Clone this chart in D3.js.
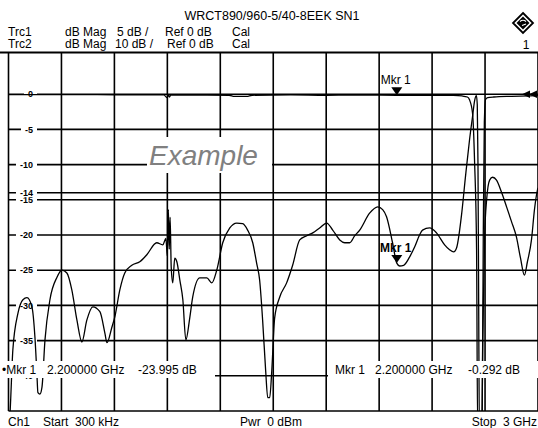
<!DOCTYPE html>
<html><head><meta charset="utf-8">
<script src="https://cdn.jsdelivr.net/npm/d3@7"></script>
<style>
html,body{margin:0;padding:0;background:#fff;overflow:hidden}
text{font-family:"Liberation Sans",Arial,sans-serif;fill:#000}
</style>
</head><body>
<svg id="c" width="538" height="428"></svg>
<script>
// ---------- data ----------
const titleText = "WRCT890/960-5/40-8EEK SN1";
const traceNames = ["Trc1", "Trc2"];
const traceFormats = ["dB Mag", "dB Mag"];
const traceScales = ["5 dB /", "10 dB /"];
const traceRefs = ["Ref 0 dB", "Ref 0 dB"];
const traceCal = ["Cal", "Cal"];
const startGHz = 0.0003, stopGHz = 3.0;
const footerTexts = ["Ch1", "Start  300 kHz", "Pwr  0 dBm", "Stop  3 GHz"];
const yTickValues = [0, -5, -10, -15, -14, -20, -25, -30, -35, -40];
const markerFreq = 2.2;
const markerTrc1 = -23.995;
const markerTrc2 = -0.292;
const markerInfoLeft = ["\u2022Mkr 1", "2.200000 GHz", "-23.995 dB"];
const markerInfoRight = ["Mkr 1", "2.200000 GHz", "-0.292 dB"];
const watermark = "Example";

// Trc1 (5 dB/div) : [GHz, dB]
const trc1 = [
[0.0003,-48],[0.0085,-45.5],[0.025,-36.3],[0.054,-31.1],[0.082,-29.2],[0.105,-28.9],[0.133,-30.2],
[0.150,-34.5],[0.161,-39.6],[0.167,-42.4],[0.178,-42.6],[0.190,-41.6],[0.207,-34.9],[0.235,-29.2],
[0.275,-26.0],[0.303,-25.0],[0.331,-25.4],[0.359,-27.8],[0.388,-32.1],[0.416,-35.2],[0.444,-32.1],
[0.478,-30.2],[0.518,-30.9],[0.546,-33.9],[0.558,-35.3],[0.586,-33.1],[0.603,-31.6],[0.631,-27.8],
[0.659,-25.4],[0.699,-24.3],[0.744,-23.8],[0.784,-22.8],[0.840,-21.1],[0.874,-21.4],[0.892,-20.5],
[0.900,-23.0],[0.906,-16.4],[0.911,-22.0],[0.916,-17.5],[0.922,-24.5],[0.931,-26.8],[0.942,-23.3],
[0.954,-23.8],[0.971,-26.4],[0.988,-29.2],[1.005,-34.9],[1.027,-31.8],[1.044,-28.8],[1.084,-26.1],
[1.124,-26.1],[1.152,-26.8],[1.180,-25.0],[1.214,-21.1],[1.254,-19.0],[1.293,-18.3],[1.327,-18.4],
[1.355,-19.3],[1.384,-21.1],[1.406,-24.0],[1.423,-26.4],[1.440,-32.1],[1.457,-39.2],[1.469,-43.1],
[1.480,-43.1],[1.492,-39.2],[1.508,-31.8],[1.537,-28.8],[1.576,-26.8],[1.610,-24.3],[1.650,-20.7],
[1.690,-20.1],[1.724,-19.7],[1.763,-19.0],[1.803,-18.3],[1.837,-19.3],[1.877,-20.7],[1.905,-21.1],
[1.933,-21.1],[1.962,-20.1],[1.990,-19.3],[2.046,-16.9],[2.092,-16.0],[2.120,-16.4],[2.142,-17.4],
[2.176,-21.1],[2.200,-24.0],[2.216,-24.4],[2.239,-24.3],[2.273,-23.1],[2.301,-21.7],[2.329,-20.0],
[2.346,-19.3],[2.386,-19.0],[2.425,-19.7],[2.471,-21.4],[2.499,-22.1],[2.522,-22.4],[2.539,-21.8],
[2.567,-17.1],[2.590,-11.5],[2.612,-6.5],[2.629,-3.2],[2.641,-0.9],[2.651,-0.2],[2.656,-1.5],
[2.660,-10],[2.664,-30],[2.668,-48],[2.682,-48],[2.687,-35],[2.692,-28],[2.698,-20],[2.709,-15.0],
[2.726,-12.2],[2.743,-11.8],[2.765,-12.2],[2.793,-13.9],[2.822,-16.0],[2.850,-18.1],[2.878,-20.3],
[2.901,-23.3],[2.923,-25.7],[2.940,-23.8],[2.963,-20.7],[2.980,-16.4],[2.997,-13.6],[3.0,-13.3]
];
// Trc2 (10 dB/div) : [GHz, dB]
const trc2 = [
[0.0003,-0.1],[0.3,-0.1],[0.6,-0.15],[0.88,-0.2],[0.900,-1.0],[0.906,-0.1],[0.912,-0.8],[0.920,-0.2],
[1.0,-0.25],[1.25,-0.3],[1.28,-0.6],[1.35,-0.6],[1.38,-0.3],[1.6,-0.2],[1.8,-0.3],[2.0,-0.25],
[2.2,-0.292],[2.4,-0.3],[2.52,-0.35],[2.57,-0.5],[2.600,-0.8],[2.612,-1.6],[2.629,-5.3],[2.641,-19.6],
[2.652,-44],[2.658,-95],[2.683,-95],[2.690,-40],[2.696,-8],[2.703,-1.5],[2.715,-1.0],[2.75,-0.8],
[2.85,-0.6],[3.0,-0.4]
];

// ---------- drawing ----------
const svg = d3.select("#c");
const X0 = 8.5, X1 = 538, YTOP = 52.5, YBOT = 411;
const x = d3.scaleLinear().domain([startGHz, stopGHz]).range([X0, X1]);
const y1 = d3.scaleLinear().domain([0, -45]).range([94.2, YBOT]);
const y2 = d3.scaleLinear().domain([0, -90]).range([94.2, YBOT]);
const GW = 1.6;

const grid = svg.append("g").attr("stroke", "#000").attr("stroke-width", GW);
d3.range(0, 11).forEach(i => {
  const f = startGHz + i * (stopGHz - startGHz) / 10;
  grid.append("line").attr("x1", x(f)).attr("x2", x(f)).attr("y1", YTOP).attr("y2", YBOT);
});
yTickValues.forEach(v => {
  grid.append("line").attr("x1", X0).attr("x2", X1).attr("y1", y1(v)).attr("y2", y1(v));
});
grid.append("line").attr("x1", X0).attr("x2", X1).attr("y1", y1(-45)).attr("y2", y1(-45));
svg.append("line").attr("x1", 0).attr("x2", 538).attr("y1", YTOP).attr("y2", YTOP)
  .attr("stroke", "#000").attr("stroke-width", 2);

// y labels
const gl = svg.append("g");
yTickValues.forEach(v => {
  const g = gl.append("g");
  const t = g.append("text").attr("x", 33).attr("y", y1(v)).attr("dy", "0.36em")
    .attr("text-anchor", "end").attr("font-weight", "bold").attr("font-size", 9).text(String(v));
  const bb = t.node().getBBox();
  g.insert("rect", "text").attr("x", bb.x - 4).attr("y", y1(v) - 4.5)
    .attr("width", bb.width + 8).attr("height", 9).attr("fill", "#fff");
});

// watermark
svg.append("rect").attr("x", 147).attr("y", 137).attr("width", 125).attr("height", 36).attr("fill", "#fff");
svg.append("text").attr("x", 149).attr("y", 165).attr("font-size", 28).attr("font-style", "italic")
  .style("fill", "#808080").text(watermark);

// traces
svg.append("clipPath").attr("id", "pc").append("rect")
  .attr("x", X0).attr("y", YTOP).attr("width", X1 - X0).attr("height", YBOT - YTOP);
const tg = svg.append("g").attr("clip-path", "url(#pc)").attr("fill", "none")
  .attr("stroke", "#000").attr("stroke-width", 1.3).attr("stroke-linejoin", "round");
const l1 = d3.line().x(d => x(d[0])).y(d => y1(d[1])).curve(d3.curveMonotoneX);
const l2 = d3.line().x(d => x(d[0])).y(d => y2(d[1])).curve(d3.curveMonotoneX);
tg.append("path").attr("d", l2(trc2));
tg.append("path").attr("d", l1(trc1));

// markers
function marker(tipY, bold) {
  const mx = x(markerFreq);
  svg.append("path").attr("d", `M${mx - 5.5},${tipY - 8}L${mx + 5.5},${tipY - 8}L${mx},${tipY}Z`).attr("fill", "#000");
  svg.append("text").attr("x", mx - 1).attr("y", tipY - 11).attr("text-anchor", "middle")
    .attr("font-size", 12).attr("font-weight", bold ? "bold" : "normal").text("Mkr 1");
}
marker(y2(markerTrc2), false);
marker(y1(markerTrc1), true);

// reference arrows
[522, 529].forEach(tx => {
  const ry = y1(0);
  svg.append("path").attr("d", `M${tx},${ry}L${tx + 8},${ry - 3.8}L${tx + 8},${ry + 3.8}Z`).attr("fill", "#000");
});

// marker info boxes
svg.append("rect").attr("x", 0).attr("y", 361).attr("width", 215).attr("height", 17).attr("fill", "#fff");
svg.append("rect").attr("x", 328).attr("y", 361).attr("width", 210).attr("height", 17).attr("fill", "#fff");
const mi = svg.append("g").attr("font-size", 12);
[[2, 0], [47, 1], [138, 2]].forEach(([px, i]) => mi.append("text").attr("x", px).attr("y", 374).text(markerInfoLeft[i]));
[[335, 0], [375, 1], [468, 2]].forEach(([px, i]) => mi.append("text").attr("x", px).attr("y", 374).text(markerInfoRight[i]));

// header
svg.append("text").attr("x", 272).attr("y", 20).attr("text-anchor", "middle").attr("font-size", 12.5).text(titleText);
const hg = svg.append("g").attr("font-size", 12);
[36, 47.5].forEach((by, i) => {
  hg.append("text").attr("x", 8).attr("y", by).text(traceNames[i]);
  hg.append("text").attr("x", 65).attr("y", by).text(traceFormats[i]);
  hg.append("text").attr("x", i === 0 ? 117 : 115).attr("y", by).text(traceScales[i]);
  hg.append("text").attr("x", i === 0 ? 165 : 167).attr("y", by).text(traceRefs[i]);
  hg.append("text").attr("x", 232).attr("y", by).text(traceCal[i]);
});
// logo
const lg = svg.append("g").attr("transform", "translate(523,23)");
lg.append("path").attr("d", "M0,-10L10,0L0,10L-10,0Z").attr("fill", "#fff").attr("stroke", "#000").attr("stroke-width", 1.8);
lg.append("path").attr("d", "M0,-6.5L6.5,0L0,6.5L-6.5,0Z").attr("fill", "#000");
lg.append("path").attr("d", "M-3,-1.5Q0,-4 3,-1.5M-1,2.5L3,1").attr("fill", "none").attr("stroke", "#fff").attr("stroke-width", 1.2);
svg.append("text").attr("x", 526).attr("y", 49).attr("text-anchor", "middle").attr("font-size", 12).text("1");

// footer
const fg = svg.append("g").attr("font-size", 12);
const ft = (px, t, anchor) => fg.append("text").attr("x", px).attr("y", 426)
  .attr("xml:space", "preserve").style("white-space", "pre")
  .attr("text-anchor", anchor || "start").text(t);
ft(8, footerTexts[0]);
ft(43, footerTexts[1]);
ft(240, footerTexts[2]);
ft(537, footerTexts[3], "end");
</script>
</body></html>
